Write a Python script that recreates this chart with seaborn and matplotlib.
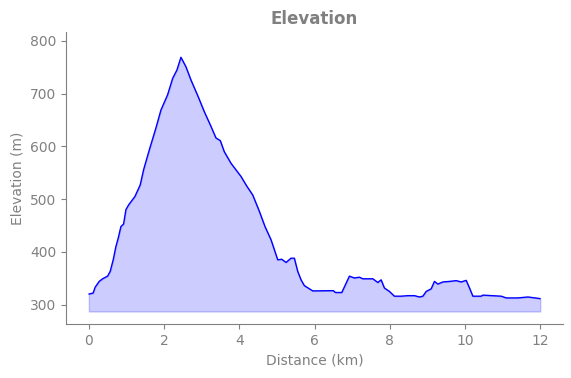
import matplotlib
matplotlib.use("Agg")
import matplotlib.pyplot as plt
import seaborn as sns
import pandas as pd

distance_km = [0.0, 0.114, 0.167, 0.274, 0.365, 0.498, 0.567, 0.647, 0.718, 0.780,
               0.852, 0.923, 0.985, 1.056, 1.224, 1.365, 1.456, 1.605, 1.783, 1.916,
               2.094, 2.227, 2.342, 2.448, 2.581, 2.714, 2.908, 3.068, 3.246, 3.379,
               3.494, 3.600, 3.779, 4.045, 4.196, 4.356, 4.532, 4.683, 4.843, 5.021,
               5.128, 5.242, 5.375, 5.463, 5.553, 5.641, 5.729, 5.953, 6.501, 6.554,
               6.724, 6.927, 7.060, 7.193, 7.283, 7.549, 7.682, 7.770, 7.858, 7.991,
               8.124, 8.302, 8.481, 8.656, 8.789, 8.880, 8.968, 9.101, 9.188, 9.279,
               9.412, 9.587, 9.766, 9.899, 10.032, 10.120, 10.210, 10.431, 10.476, 10.963,
               11.096, 11.407, 11.673, 12.0]
elevation_m = [320, 322, 333, 344, 349, 354, 363, 385, 410, 426,
               448, 453, 480, 489, 505, 527, 556, 593, 635, 669,
               698, 729, 745, 769, 751, 726, 694, 666, 638, 616,
               611, 590, 568, 543, 525, 508, 477, 448, 423, 385,
               386, 380, 388, 388, 363, 347, 336, 326, 326.5, 323,
               323, 354, 350.5, 352, 349, 349, 342, 347, 331.5, 325,
               316, 316, 317, 317, 314.5, 316, 325, 330, 344, 339,
               343, 344, 345.5, 343, 346, 331.5, 316, 316, 318, 316,
               312.7, 312.7, 314.5, 311.4]
fill_base = 287

df = pd.DataFrame({"Distance (km)": distance_km, "Elevation (m)": elevation_m})

sns.set_style("ticks")
plt.rcParams['font.family'] = ['DejaVu Sans']
gray = "#808080"

fig = plt.figure(figsize=(5.71, 3.78), dpi=100)
ax = fig.add_axes([0.1161, 0.1425, 0.8695, 0.7729])
ax.fill_between(df["Distance (km)"], fill_base, df["Elevation (m)"], color="blue", alpha=0.2)
sns.lineplot(data=df, x="Distance (km)", y="Elevation (m)", ax=ax, color="blue", linewidth=1)
ax.set_xlim(-0.6, 12.6)
ax.set_ylim(263, 817)
ax.set_xticks([0, 2, 4, 6, 8, 10, 12])
ax.set_yticks([300, 400, 500, 600, 700, 800])
ax.set_title("Elevation", fontsize=12, fontweight="bold", color=gray)
ax.set_xlabel("Distance (km)", fontsize=10, color=gray)
ax.set_ylabel("Elevation (m)", fontsize=10, color=gray)
ax.tick_params(colors=gray, labelsize=10)
for s in ["left", "bottom"]:
    ax.spines[s].set_color(gray)
sns.despine(ax=ax)
fig.savefig("out.png", dpi=100)
